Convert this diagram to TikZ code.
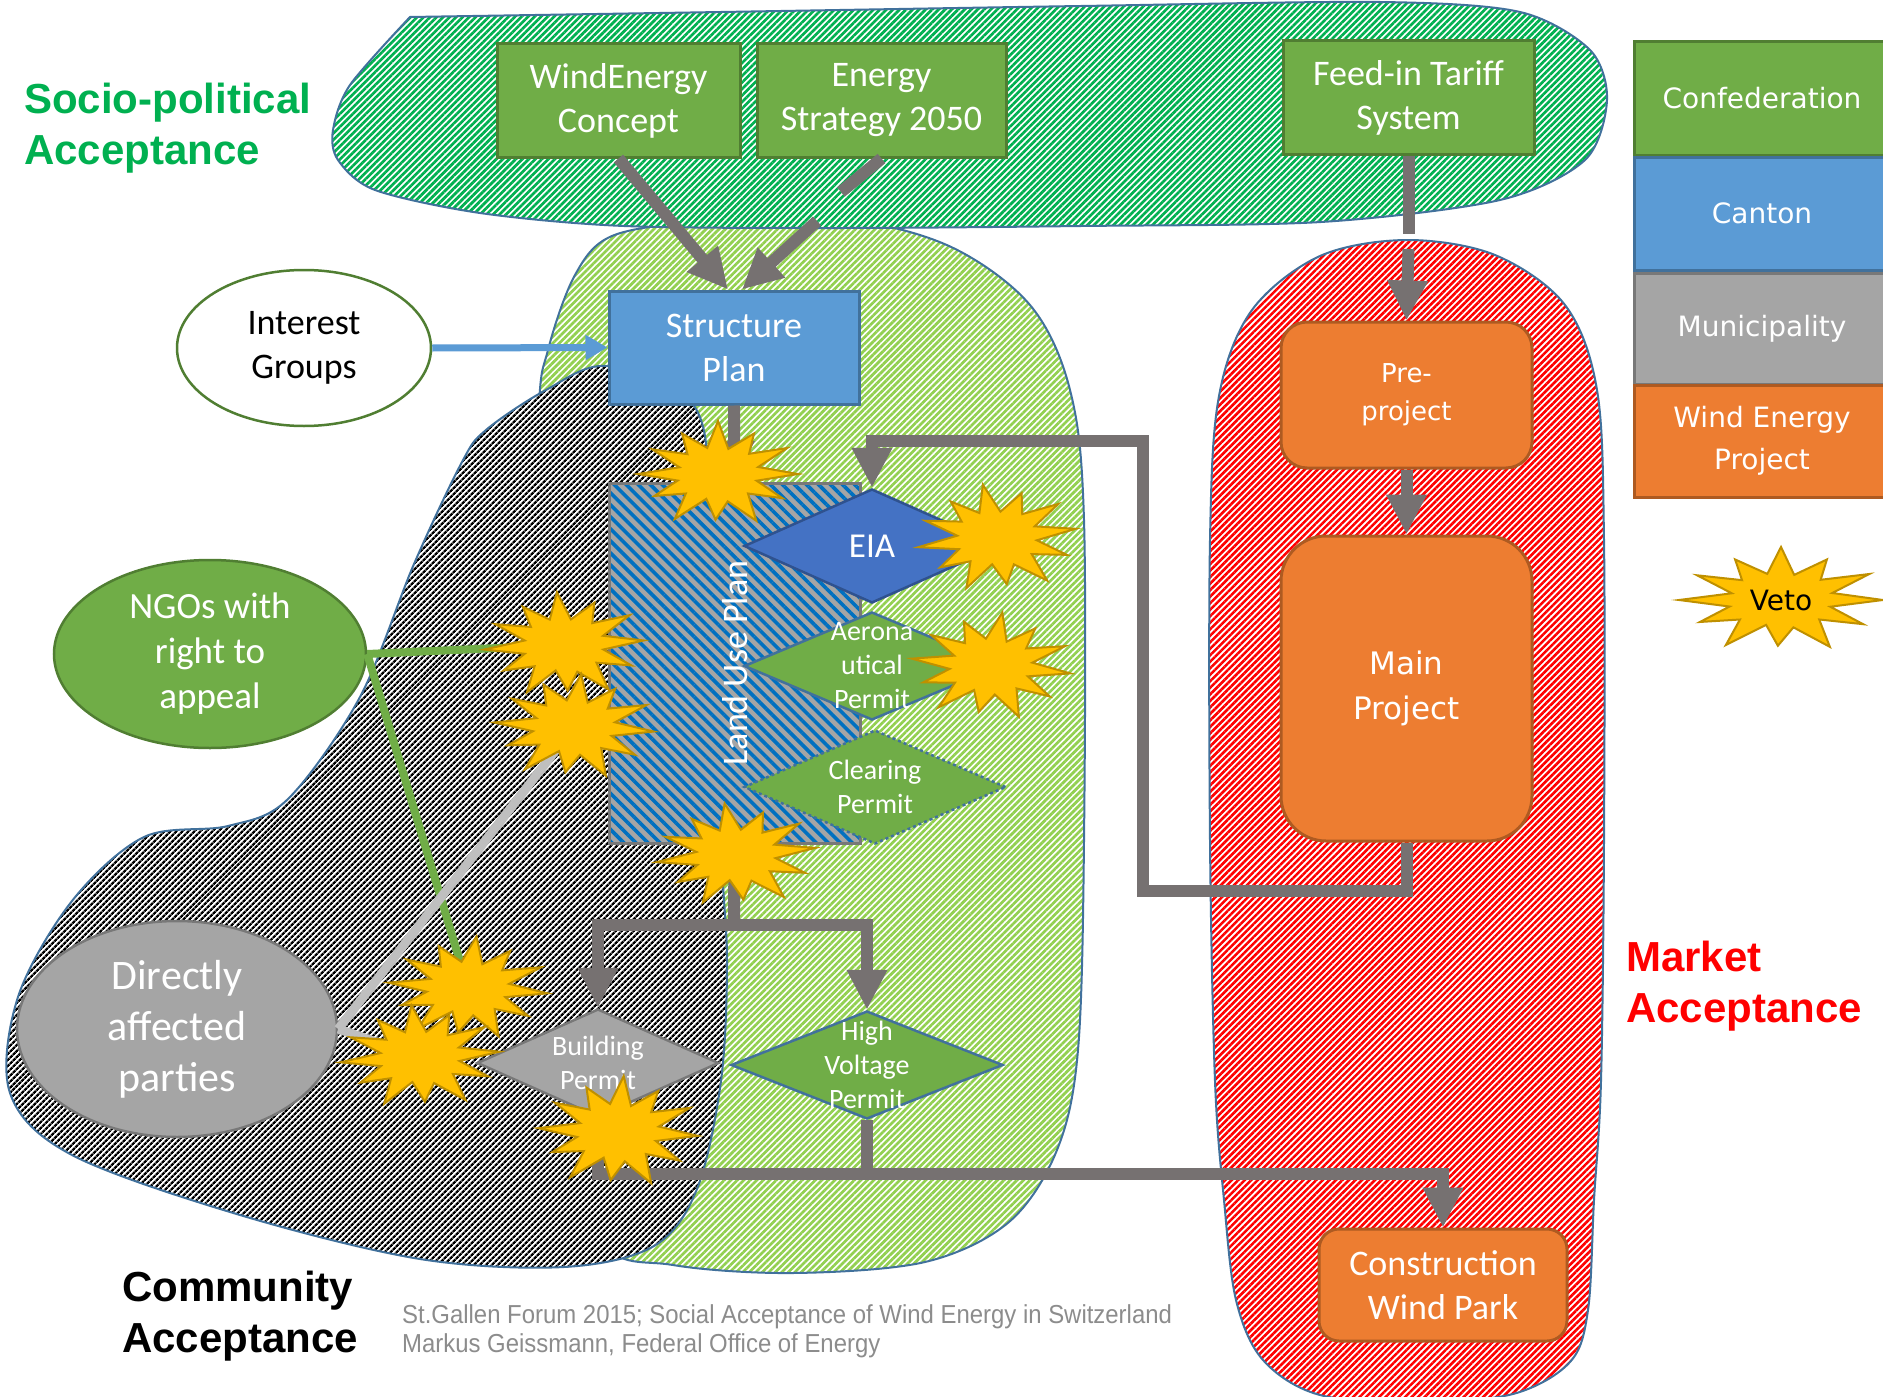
\documentclass[tikz,border=0pt]{standalone}
\usepackage{graphicx}
\usepackage{fontspec}
\setmainfont{Carlito}
\newfontfamily\arialf{Liberation Sans}
\newfontfamily\verdf{DejaVu Sans}
\usetikzlibrary{shapes.geometric,arrows.meta,patterns.meta}
\definecolor{cgreen}{HTML}{70AD47}
\definecolor{cgreenD}{HTML}{507E32}
\definecolor{cblue}{HTML}{5B9BD5}
\definecolor{cblueD}{HTML}{41719C}
\definecolor{ceia}{HTML}{4472C4}
\definecolor{ceiaD}{HTML}{2F528F}
\definecolor{cgray}{HTML}{A5A5A5}
\definecolor{cgrayD}{HTML}{787878}
\definecolor{corange}{HTML}{ED7D31}
\definecolor{corangeD}{HTML}{AE5A21}
\definecolor{conn}{HTML}{767171}
\definecolor{vfill}{HTML}{FFC000}
\definecolor{vline}{HTML}{BF9000}
\definecolor{hatchG}{HTML}{00B050}
\definecolor{hatchL}{HTML}{92D050}
\definecolor{hatchR}{HTML}{FF0000}
\definecolor{luBlue}{HTML}{0070C0}
\definecolor{footg}{HTML}{8C8C8C}
\definecolor{dapline}{HTML}{BFBFBF}
\tikzset{
  vetostar/.pic={\path[draw=vline, fill=vfill, line width=2pt, line join=miter]
    (0:1) -- (15:0.5) -- (30:0.93) -- (45:0.53) -- (62:1.02) -- (77:0.54) -- (92:0.88) -- (107:0.5)
    -- (122:1.02) -- (137:0.55) -- (152:0.9) -- (166:0.52) -- (180:1) -- (195:0.5) -- (210:0.95)
    -- (225:0.54) -- (240:0.9) -- (255:0.52) -- (270:1.02) -- (285:0.5) -- (300:0.9) -- (315:0.55)
    -- (330:1) -- (345:0.52) -- cycle;}
}
\begin{document}
\begin{tikzpicture}[x=1pt,y=-1pt,line join=miter,
  blob/.style={draw=cblueD, line width=2pt, preaction={fill=white}},
  gbox/.style={draw=cgreenD, fill=cgreen, line width=3pt, text=white, inner sep=0pt, align=center, font=\fontsize{36}{44}\selectfont},
  bbox/.style={draw=cblueD, fill=cblue, line width=3pt, text=white, inner sep=0pt, align=center, font=\fontsize{36}{44}\selectfont},
  obox/.style={draw=corangeD, fill=corange, line width=3pt, text=white, inner sep=0pt, align=center},
  dia/.style={diamond, inner sep=0pt, line width=2.5pt},
  dtext/.style={text=white, align=center, inner sep=0pt, font=\fontsize{28}{34}\selectfont},
  legbox/.style={line width=3pt, text=white, inner sep=0pt, minimum width=255pt, align=center, font=\verdf\fontsize{28}{42}\selectfont},
  connL/.style={draw=conn, line width=12pt},
  connA/.style={connL, -{Triangle[width=38pt,length=40pt]}},
  blueA/.style={draw=cblue, line width=7pt, -{Triangle[width=24pt,length=22pt]}},
  ngoL/.style={draw=cgreen, line width=8pt},
  dapL/.style={draw=dapline, line width=9pt},
  headtxt/.style={anchor=west, align=left, inner sep=0pt, font=\arialf\bfseries\fontsize{42}{51}\selectfont}
]
\useasboundingbox (0,0) rectangle (1883,1397);
\clip (0,0) rectangle (1883,1397);
\fill[white] (0,0) rectangle (1883,1397);

% ---------- blobs ----------
\path[blob, pattern={Lines[angle=45,distance=4.6pt,line width=2.7pt]}, pattern color=hatchL]
  plot[smooth cycle, tension=0.55] coordinates {(612,236) (700,222) (841,219) (949,246) (1030,305) (1070,390) (1084,520) (1084,841) (1078,1050) (1057,1150) (1009,1222) (925,1262) (793,1273) (673,1265) (600,1240) (540,1081) (528,721) (538,420) (548,350) (575,275)};
\path[blob, pattern={Lines[angle=45,distance=4pt,line width=2.5pt]}, pattern color=black]
  plot[smooth cycle, tension=0.55] coordinates {(606,366) (690,400) (711,504) (721,841) (727,961) (721,1081) (697,1189) (654,1246) (564,1267) (420,1259) (240,1215) (72,1155) (10,1093) (18,997) (72,901) (144,837) (228,826) (288,799) (360,697) (414,564) (462,462) (486,430) (546,390)};
\path[blob, pattern={Lines[angle=45,distance=4.6pt,line width=2.6pt]}, pattern color=hatchR]
  plot[smooth cycle, tension=0.55] coordinates {(1407,240) (1495,255) (1565,305) (1597,390) (1604,540) (1604,841) (1601,1081) (1594,1200) (1588,1310) (1570,1362) (1513,1394) (1420,1402) (1320,1395) (1263,1360) (1236,1300) (1224,1200) (1215,1081) (1210,841) (1210,540) (1219,396) (1252,310) (1320,256)};
\path[blob, pattern={Lines[angle=45,distance=4.6pt,line width=2.7pt]}, pattern color=hatchG]
  plot[smooth, tension=0.5] coordinates {(410,17) (721,12) (1081,6) (1380,2) (1520,12) (1590,50) (1607,100) (1585,160) (1500,200) (1321,222) (1081,226) (841,228) (624,226) (480,213) (375,190) (338,160) (333,130) (350,85) (410,17)} -- cycle;

% ---------- nodes ----------
\node[gbox, minimum width=243pt, minimum height=113pt] (wec) at (618.5,100.5) {WindEnergy\\Concept};
\node[gbox, minimum width=249pt, minimum height=113pt] (esp) at (881.5,100.5) {Energy\\Strategy 2050};
\node[gbox, minimum width=251pt, minimum height=113pt] (fit) at (1408.5,97.5) {Feed-in Tariff\\System};
\node[bbox, minimum width=250pt, minimum height=113pt] (sp) at (734,347.5) {Structure\\Plan};
\node[ellipse, draw=cgreenD, fill=white, line width=2.5pt, minimum width=254pt, minimum height=156pt, inner sep=0pt, align=center, font=\fontsize{36}{44}\selectfont] (ig) at (304,348) {Interest\\Groups};
\node[ellipse, draw=cgreenD, fill=cgreen, line width=2.5pt, minimum width=312pt, minimum height=188pt, inner sep=0pt, text=white, align=center, font=\fontsize{37}{45}\selectfont] (ngo) at (210,654) {NGOs with\\right to\\appeal};
\node[ellipse, draw=cgrayD, fill=cgray, line width=2.5pt, minimum width=320pt, minimum height=216pt, inner sep=0pt, text=white, align=center, font=\fontsize{42}{51}\selectfont] (dap) at (177,1029) {Directly\\affected\\parties};

\node[draw=cgrayD, line width=3pt, preaction={fill=cgray}, pattern={Lines[angle=-45,distance=8.5pt,line width=3.6pt]}, pattern color=luBlue, minimum width=251pt, minimum height=360pt, inner sep=0pt] (lu) at (734.5,663) {};

\node[dia, draw=ceiaD, fill=ceia, minimum width=256pt, minimum height=114pt] (eia) at (872,546) {};
\node[dia, draw=cblueD, fill=cgreen, minimum width=256pt, minimum height=108pt] (aero) at (872,666) {};
\node[dia, draw=cblueD, dashed, fill=cgreen, minimum width=262pt, minimum height=114pt] (clear) at (875,787) {};
\node[dia, draw=cgrayD, fill=cgray, minimum width=242pt, minimum height=108pt] (build) at (598,1063) {};
\node[dia, draw=cblueD, fill=cgreen, minimum width=272pt, minimum height=108pt] (hv) at (867,1065) {};
\node[dtext, font=\fontsize{35}{40}\selectfont] (eiaT) at (eia.center) {EIA};
\node[dtext] (aeroT) at (aero.center) {Aerona\\utical\\Permit};
\node[dtext] (clearT) at (clear.center) {Clearing\\Permit};
\node[dtext] (buildT) at (build.center) {Building\\Permit};
\node[dtext] (hvT) at (hv.center) {High\\Voltage\\Permit};
\node[rotate=90, text=white, inner sep=0pt, font=\fontsize{36}{40}\selectfont] (luT) at (735,663) {Land Use Plan};

\node[obox, rounded corners=26pt, minimum width=251pt, minimum height=146pt, font=\verdf\fontsize{26}{38}\selectfont] (pre) at (1406.5,395) {Pre-\\project};
\node[obox, rounded corners=45pt, minimum width=251pt, minimum height=305pt, font=\verdf\fontsize{31}{45}\selectfont] (main) at (1406.5,688.5) {Main\\Project};
\node[obox, rounded corners=20pt, minimum width=248pt, minimum height=112pt, font=\fontsize{36}{44}\selectfont] (cwp) at (1443,1285) {Construction\\Wind Park};

% ---------- connectors ----------
\coordinate (esg1) at (841,192);
\coordinate (esg2) at (817,221);
\coordinate (fg1) at (1408.5,234);
\coordinate (fg2) at (1408.5,249);
\coordinate (loopA) at (1143,891);
\coordinate (loopB) at (1143,441);
\coordinate (split) at (734,925);
\coordinate (busL) at (598,1174);
\coordinate (v1) at (718,474);
\coordinate (v2) at (997,538);
\coordinate (v3) at (991,666);
\coordinate (v4) at (564,645);
\coordinate (v5) at (574,727);
\coordinate (v6) at (736,855);
\coordinate (v7) at (468,988);
\coordinate (v8) at (420,1057);
\coordinate (v9) at (618,1132);

\draw[connA] (wec.south) -- ([xshift=-6pt]sp.north);
\draw[connL] (esp.south) -- (esg1);
\draw[connA] (esg2) -- ([xshift=8pt]sp.north);
\draw[connL] (fit.south) -- (fg1);
\draw[connA] (fg2) -- (pre.north);
\draw[connA] (pre.south) -- (main.north);
\draw[blueA] (ig.east) -- (sp.west);
\draw[connA] (sp.south) -- (lu.north);
\draw[connA] (main.south) |- (loopA) -- (loopB) -| (eia.north);
\draw[connL] (lu.south) -- (split);
\draw[connA] (split) -| (build.north);
\draw[connA] (split) -| (hv.north);
\draw[connA] (build.south) -- (busL) -| (cwp.north);
\draw[connL] (hv.south) -- (hv.south |- busL);
\draw[ngoL] (ngo.east) -- (v4);
\draw[ngoL] (ngo.east) -- (v7);
\draw[dapL] (dap.east) -- (v5);
\draw[dapL] (dap.east) -- (v8);

% ---------- veto stars ----------
\pic[xscale=80,yscale=52] at (v1) {vetostar};
\pic[xscale=80,yscale=53,rotate=10] at (v2) {vetostar};
\pic[xscale=80,yscale=53,rotate=-8] at (v3) {vetostar};
\pic[xscale=80,yscale=52,rotate=5] at (v4) {vetostar};
\pic[xscale=80,yscale=52,rotate=-5] at (v5) {vetostar};
\pic[xscale=80,yscale=51,rotate=8] at (v6) {vetostar};
\pic[xscale=80,yscale=51,rotate=-6] at (v7) {vetostar};
\pic[xscale=80,yscale=51,rotate=6] at (v8) {vetostar};
\pic[xscale=80,yscale=55,rotate=-4] at (v9) {vetostar};

% ---------- legend ----------
\node[legbox, draw=cgreenD, fill=cgreen, minimum height=113pt] (lg1) at (1762,98.5) {Confederation};
\node[legbox, draw=cblueD, fill=cblue, minimum height=113pt] (lg2) at (1762,213.5) {Canton};
\node[legbox, draw=cgrayD, fill=cgray, minimum height=111pt] (lg3) at (1762,328.5) {Municipality};
\node[legbox, draw=corangeD, fill=corange, minimum height=112pt] (lg4) at (1762,441) {Wind Energy\\Project};
\pic[xscale=102,yscale=52] at (1781,600) {vetostar};
\node[inner sep=0pt, font=\verdf\fontsize{28}{34}\selectfont] (vetoT) at (1781,600) {Veto};

% ---------- titles ----------
\node[headtxt, text=hatchG] (tSP) at (24,128) {Socio-political\\Acceptance};
\node[headtxt, text=black] (tCA) at (122,1316) {Community\\Acceptance};
\node[headtxt, text=hatchR] (tMA) at (1626,986) {Market\\Acceptance};
\node[anchor=west, align=left, inner sep=0pt, text=footg, font=\arialf\fontsize{26}{29}\selectfont] (foot) at (402,1331)
  {\scalebox{0.92}[1]{St.Gallen Forum 2015; Social Acceptance of Wind Energy in Switzerland}\\\scalebox{0.92}[1]{Markus Geissmann, Federal Office of Energy}};
\end{tikzpicture}
\end{document}
